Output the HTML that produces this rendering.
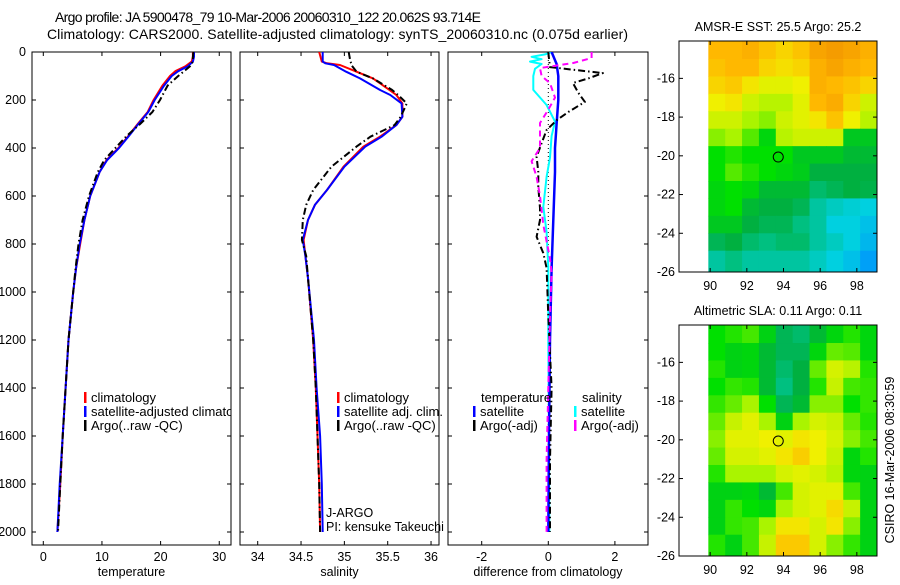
<!DOCTYPE html>
<html><head><meta charset="utf-8"><style>
body{margin:0;background:#fff}
svg text{font-family:"Liberation Sans",sans-serif;fill:#000}
</style></head><body>
<svg id="fig" width="900" height="580" xmlns="http://www.w3.org/2000/svg">
<g>
<text x="55" y="22" font-size="14" textLength="426">Argo profile: JA 5900478_79 10-Mar-2006 20060310_122 20.062S 93.714E</text>
<text x="47" y="39" font-size="14" textLength="581">Climatology: CARS2000. Satellite-adjusted climatology: synTS_20060310.nc (0.075d earlier)</text>
</g>
<g id="plots"></g>
</svg>
<script>
// ---- Temperature panel data ----
const tDepth=[0,20,40,60,80,100,140,200,250,300,350,400,450,500,600,700,800,900,1000,1200,1400,1600,1800,2000];
const tClim=[25.5,25.5,25.3,24.2,22.5,21.6,20.3,18.8,17.8,16.1,14.5,12.8,10.8,9.6,8.0,7.0,6.3,5.6,5.1,4.3,3.8,3.3,2.9,2.4];
const tSat=[25.7,25.7,25.5,24.6,23.0,21.9,20.6,19.0,17.9,16.2,14.6,12.9,10.9,9.6,8.0,7.0,6.2,5.6,5.1,4.3,3.8,3.3,2.8,2.4];
const tArgo=[25.6,25.5,25.5,25.0,24.0,23.0,21.2,19.9,18.6,16.5,14.2,12.3,10.4,9.3,7.8,6.7,6.0,5.5,5.1,4.3,3.8,3.3,2.9,2.5];
// ---- Salinity panel data ----
const sDepth=[0,40,47,54,82,110,158,179,214,270,304,353,394,478,575,637,700,783,850,942,1200,1400,1600,1800,2000];
const sClim=[34.71,34.74,34.8,34.95,35.14,35.33,35.52,35.6,35.67,35.67,35.6,35.41,35.22,34.99,34.8,34.66,34.58,34.53,34.55,34.58,34.64,34.67,34.69,34.71,34.72];
const sSat=[34.75,34.75,34.78,34.88,35.02,35.18,35.41,35.53,35.66,35.67,35.6,35.43,35.24,35.0,34.8,34.66,34.58,34.52,34.55,34.58,34.65,34.68,34.72,34.74,34.75];
const sArgo=[35.05,35.07,35.08,35.08,35.14,35.33,35.55,35.62,35.72,35.65,35.58,35.3,35.14,34.85,34.64,34.56,34.52,34.51,34.56,34.58,34.64,34.67,34.69,34.71,34.72];
// ---- Difference panel data ----
const dTSatDepth=[0,50,100,200,300,400,500,700,900,1200,1600,2000];
const dTSat=[0.1,0.25,0.3,0.3,0.25,0.2,0.2,0.15,0.1,0.05,0.02,0.0];
const dTArgoDepth=[0,40,63,88,110,129,170,208,250,283,325,380,437,500,562,650,700,770,838,900,1100,1400,1700,2000];
const dTArgo=[0,0.03,0.05,1.64,1.2,0.74,0.9,1.1,0.6,0.26,-0.05,-0.2,-0.35,-0.3,-0.3,-0.25,-0.25,-0.35,-0.15,-0.05,0.0,0.1,0.05,0.05];
const dSSatDepth=[0,10,20,30,40,50,70,100,158,221,290,350,440,520,645,750,900,1200,1600,2000];
const dSSat=[0.1,-0.1,-0.5,-0.2,-0.55,-0.2,-0.4,-0.45,-0.45,-0.05,0.2,0.1,0.05,-0.05,-0.15,-0.05,0.0,0.0,0.02,0.03];
const dSArgoDepth=[0,25,46,67,100,130,190,240,296,400,455,520,600,720,860,920,1100,1400,1700,2000];
const dSArgo=[1.3,1.3,0.75,-0.25,-0.2,0.05,0.2,0.0,-0.25,-0.25,-0.5,-0.35,-0.25,-0.15,0.05,0.1,0.05,0.0,-0.05,-0.05];
// ---- Tick labels ----
const depthTicks=[0,200,400,600,800,1000,1200,1400,1600,1800,2000];
const tempTicks=[0,10,20,30];
const salTicks=[34,34.5,35,35.5,36];
const diffTicks=[-2,0,2];
const lonTicks=[90,92,94,96,98];
const latTicks=[-16,-18,-20,-22,-24,-26];
// ---- Map grids (colormap index 0..1), rows north->south, cols west->east ----
const gridLon=[89.9,90.82,91.74,92.66,93.58,94.5,95.42,96.34,97.26,98.18,99.1];
const gridLat=[-14.07,-15.0,-15.9,-16.8,-17.7,-18.6,-19.5,-20.4,-21.3,-22.2,-23.1,-24.0,-24.9,-26.0];
const sstGrid=[
[0.9,0.9,0.92,0.88,0.85,0.88,0.95,0.97,0.95,0.92],
[0.88,0.9,0.9,0.85,0.83,0.85,0.92,0.95,0.92,0.9],
[0.85,0.87,0.82,0.78,0.78,0.8,0.92,0.9,0.88,0.85],
[0.8,0.82,0.75,0.72,0.72,0.78,0.9,0.93,0.85,0.75],
[0.75,0.75,0.7,0.68,0.75,0.78,0.82,0.88,0.8,0.72],
[0.68,0.7,0.65,0.58,0.72,0.75,0.75,0.75,0.55,0.55],
[0.6,0.62,0.6,0.6,0.6,0.55,0.55,0.55,0.52,0.52],
[0.6,0.65,0.62,0.6,0.58,0.56,0.5,0.5,0.5,0.5],
[0.58,0.6,0.58,0.52,0.52,0.52,0.4,0.45,0.5,0.48],
[0.58,0.6,0.52,0.5,0.5,0.45,0.3,0.25,0.22,0.2],
[0.55,0.55,0.5,0.45,0.45,0.35,0.3,0.2,0.2,0.15],
[0.45,0.5,0.4,0.35,0.4,0.4,0.3,0.25,0.2,0.12],
[0.3,0.35,0.3,0.3,0.3,0.3,0.25,0.2,0.15,0.05]];
const slaGrid=[
[0.6,0.62,0.64,0.57,0.45,0.4,0.52,0.58,0.62,0.58],
[0.6,0.57,0.58,0.52,0.45,0.45,0.58,0.66,0.65,0.58],
[0.62,0.57,0.58,0.52,0.4,0.5,0.66,0.76,0.72,0.62],
[0.6,0.63,0.62,0.52,0.35,0.5,0.62,0.74,0.64,0.63],
[0.63,0.66,0.7,0.6,0.45,0.52,0.68,0.68,0.6,0.63],
[0.66,0.74,0.78,0.7,0.57,0.7,0.76,0.74,0.66,0.62],
[0.68,0.78,0.78,0.8,0.78,0.82,0.8,0.76,0.68,0.64],
[0.66,0.76,0.76,0.78,0.82,0.86,0.8,0.74,0.58,0.62],
[0.62,0.7,0.7,0.7,0.76,0.78,0.76,0.72,0.58,0.57],
[0.57,0.57,0.58,0.52,0.64,0.76,0.78,0.78,0.64,0.57],
[0.57,0.63,0.6,0.58,0.7,0.76,0.78,0.84,0.74,0.57],
[0.57,0.63,0.64,0.7,0.82,0.82,0.76,0.82,0.68,0.57],
[0.62,0.57,0.64,0.74,0.87,0.87,0.76,0.68,0.63,0.57]];
const floatLon=93.714, floatLat=-20.062;

const NS="http://www.w3.org/2000/svg";
const root=document.getElementById('plots');
function el(tag,attrs,parent){const e=document.createElementNS(NS,tag);for(const k in attrs)e.setAttribute(k,attrs[k]);(parent||root).appendChild(e);return e;}
function txt(s,x,y,size,anchor,parent){const t=el('text',{x:x,y:y,'font-size':size,'text-anchor':anchor||'start'},parent);t.textContent=s;return t;}

const yTop=52, pxPerM=0.24, yBot=545;
const yD=d=>yTop+d*pxPerM;
const panels=[
 {name:'temperature',x0:32,x1:231,v0:0,pxU:5.865,vOrig:43.3,ticks:tempTicks,label:'temperature'},
 {name:'salinity',x0:240,x1:439,pxU:86.67,vOrig:257.7,v0:34,ticks:salTicks,label:'salinity'},
 {name:'difference',x0:448,x1:648,pxU:33.3,vOrig:548.3,v0:0,ticks:diffTicks,label:'difference from climatology'}];
panels.forEach(p=>{p.xs=v=>p.vOrig+(v-p.v0)*p.pxU;});

const defs=el('defs',{});
panels.forEach((p,i)=>{const c=el('clipPath',{id:'clip'+i},defs);el('rect',{x:p.x0,y:yTop,width:p.x1-p.x0,height:yBot-yTop},c);});

panels.forEach((p,i)=>{
 const g=el('g',{});
 
 
 const box=el('rect',{x:p.x0,y:yTop,width:p.x1-p.x0,height:yBot-yTop,fill:'none',stroke:'#000','stroke-width':1},g);
 
 
 depthTicks.forEach(d=>{
  const y=yD(d);
  el('line',{x1:p.x0,x2:p.x0+4,y1:y,y2:y,stroke:'#000'},g);
  el('line',{x1:p.x1-4,x2:p.x1,y1:y,y2:y,stroke:'#000'},g);
  if(i===0){const t=txt(String(d),26,y+4,12.5,'end',g);
   
   }
 });
 p.ticks.forEach(v=>{
  const x=p.xs(v);
  el('line',{x1:x,x2:x,y1:yTop,y2:yTop+4,stroke:'#000'},g);
  el('line',{x1:x,x2:x,y1:yBot-4,y2:yBot,stroke:'#000'},g);
  const t=txt(String(v),x,561,12.5,'middle',g);
  
  
 });
 const xl=txt(p.label,(p.x0+p.x1)/2,576,12.5,'middle',g);
 
 
});

function line(pi,depths,vals,color,dash,name,w){
 const p=panels[pi];
 const pts=depths.map((d,k)=>p.xs(vals[k]).toFixed(1)+','+yD(d).toFixed(1)).join(' ');
 const a={points:pts,fill:'none',stroke:color,'stroke-width':w||2,'clip-path':'url(#clip'+pi+')','stroke-linejoin':'round'};
 if(dash)a['stroke-dasharray']=dash;
 const e=el('polyline',a);
 
 
 return e;
}
const DD='7,3,1.5,3';
line(0,tDepth,tClim,'#ff0000',null,'temperature-climatology-line');
line(0,tDepth,tSat,'#0000ff',null,'temperature-satellite-line');
line(0,tDepth,tArgo,'#000',DD,'temperature-argo-line');
line(1,sDepth,sClim,'#ff0000',null,'salinity-climatology-line');
line(1,sDepth,sSat,'#0000ff',null,'salinity-satellite-line');
line(1,sDepth,sArgo,'#000',DD,'salinity-argo-line');
const zl=el('line',{x1:panels[2].xs(0),x2:panels[2].xs(0),y1:yTop,y2:yD(2000),stroke:'#000','stroke-dasharray':'1,3'});


line(2,dSSatDepth,dSSat,'#00ffff',null,'salinity-satellite-diff-line');
line(2,dTSatDepth,dTSat,'#0000ff',null,'temperature-satellite-diff-line',2.5);
line(2,dTArgoDepth,dTArgo,'#000',DD,'temperature-argo-diff-line');
line(2,dSArgoDepth,dSArgo,'#ff00ff','6,4','salinity-argo-diff-line');

function legend(x,y,items,name,clip){
 const g=el('g',{});
 
 
 if(clip)g.setAttribute('clip-path',clip);
 items.forEach((it,k)=>{
  const yy=y+k*14;
  if(it.c)el('rect',{x:x,y:yy-10,width:2.5,height:11,fill:it.c},g);
  const t=txt(it.t,x+(it.c?7:0),yy,13,'start',g);
  
  
 });
}
legend(84,402,[{c:'#ff0000',t:'climatology'},{c:'#0000ff',t:'satellite-adjusted climatology'},{c:'#000',t:'Argo(..raw -QC)'}],'temperature-legend','url(#clip0)');
legend(337,402,[{c:'#ff0000',t:'climatology'},{c:'#0000ff',t:'satellite adj. clim.'},{c:'#000',t:'Argo(..raw -QC)'}],'salinity-legend');
legend(481,402,[{t:'temperature'}],'diff-legend-temp-title');
legend(473,416,[{c:'#0000ff',t:'satellite'},{c:'#000',t:'Argo(-adj)'}],'diff-legend-temperature');
legend(582,402,[{t:'salinity'}],'diff-legend-sal-title');
legend(574,416,[{c:'#00ffff',t:'satellite'},{c:'#ff00ff',t:'Argo(-adj)'}],'diff-legend-salinity');
const j1=txt('J-ARGO',326,517,12.5,'start');


const j2=txt('PI: kensuke Takeuchi',326,531,12.5,'start');



// ---- Maps ----
const stops=[[0,[0,144,255]],[0.2,[0,208,224]],[0.35,[0,192,128]],[0.5,[0,176,64]],[0.6,[0,224,0]],[0.7,[170,244,0]],[0.8,[240,240,0]],[0.9,[255,184,0]],[1,[240,144,0]]];
function cmap(v){for(let i=1;i<stops.length;i++){if(v<=stops[i][0]){const a=stops[i-1],b=stops[i],f=(v-a[0])/(b[0]-a[0]);return 'rgb('+a[1].map((c,k)=>Math.round(c+(b[1][k]-c)*f)).join(',')+')';}}return 'rgb(240,144,0)';}
function drawMap(top,grid,title,name){
 const x0=679,x1=877,bot=top+231,lon0=88.3,lon1=99.1,lat0=-14.07,lat1=-26.0;
 const xs=l=>x0+(l-lon0)/(lon1-lon0)*(x1-x0);
 const ys=l=>top+(lat0-l)/(lat0-lat1)*(bot-top);
 const g=el('g',{});
 
 
 grid.forEach((row,r)=>row.forEach((v,c)=>{
  const xa=xs(gridLon[c]),xb=xs(gridLon[c+1]),ya=ys(gridLat[r]),yb=ys(gridLat[r+1]);
  const cell=el('rect',{x:xa,y:ya,width:xb-xa+0.5,height:yb-ya+0.5,fill:cmap(v)},g);
  
  
 }));
 el('rect',{x:x0,y:top,width:x1-x0,height:bot-top,fill:'none',stroke:'#000'},g);
 lonTicks.forEach(l=>{const x=xs(l);
  el('line',{x1:x,x2:x,y1:top,y2:top+4,stroke:'#000'},g);
  el('line',{x1:x,x2:x,y1:bot-4,y2:bot,stroke:'#000'},g);
  const t=txt(String(l),x,bot+18,12.5,'middle',g);
  
  });
 latTicks.forEach(l=>{const y=ys(l);
  el('line',{x1:x0,x2:x0+4,y1:y,y2:y,stroke:'#000'},g);
  el('line',{x1:x1-4,x2:x1,y1:y,y2:y,stroke:'#000'},g);
  const t=txt(String(l),675,y+4,12.5,'end',g);
  
  });
 const c=el('circle',{cx:xs(floatLon),cy:ys(floatLat),r:5,fill:'none',stroke:'#000','stroke-width':1},g);
 
 
 const t=txt(title,778,top-10,12.5,'middle',g);
 
 
}
drawMap(41,sstGrid,'AMSR-E SST: 25.5 Argo: 25.2','sst-map');
drawMap(325,slaGrid,'Altimetric SLA: 0.11 Argo: 0.11','sla-map');
const cs=txt('CSIRO 16-Mar-2006 08:30:59',0,0,12.5,'middle');
cs.setAttribute('transform','translate(894,460) rotate(-90)');


</script>
</body></html>
